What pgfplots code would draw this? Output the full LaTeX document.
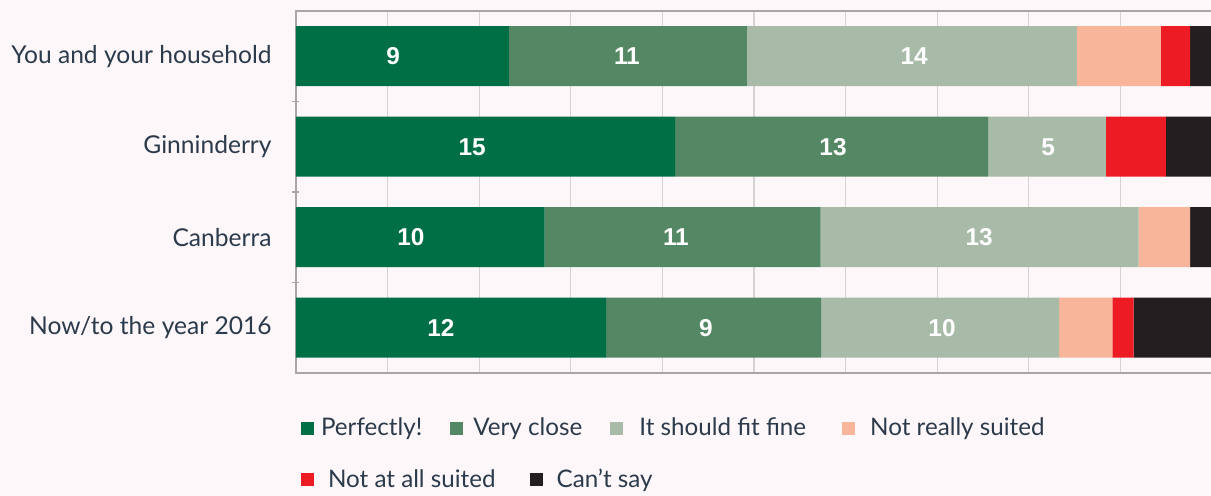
\documentclass[border=0pt]{standalone}
\usepackage{fontspec}
\setmainfont{Lato}
\newfontfamily\numfont{Liberation Sans}
\usepackage{pgfplots}
\pgfplotsset{compat=1.18}
\definecolor{bgc}{HTML}{FDF7F9}
\definecolor{txtc}{HTML}{2B3B4B}
\definecolor{gridc}{HTML}{D6D3D4}
\definecolor{axc}{HTML}{A8A6A7}
\definecolor{cA}{HTML}{006F45}
\definecolor{cB}{HTML}{548864}
\definecolor{cC}{HTML}{A8BAA8}
\definecolor{cD}{HTML}{F9B599}
\definecolor{cE}{HTML}{ED1C24}
\definecolor{cF}{HTML}{231F20}
\pgfplotsset{legsq/.style={legend image code/.code={\fill[##1] (0pt,-3.25pt) rectangle (6.5pt,3.25pt);}}}
\begin{document}
\begin{tikzpicture}
\useasboundingbox (0,0) rectangle (605.5pt,248pt);
\fill[bgc] (0,0) rectangle (605.5pt,248pt);
\begin{axis}[
  at={(148pt,61.5pt)}, anchor=south west, scale only axis,
  width=458pt, height=181pt,
  xmin=0, xmax=40, ymin=-0.5, ymax=3.5,
  xbar stacked, bar width=30pt,
  xtick={0,4,...,40}, xticklabels={},
  xmajorgrids, major x grid style={draw=gridc, line width=0.6pt},
  ytick={0,1,2,3},
  yticklabels={Now/to the year 2016, Canberra, Ginninderry, You and your household},
  minor ytick={0.5,1.5,2.5},
  major tick length=0pt, minor tick length=3.5pt, tick align=center,
  ytick pos=left,
  tick style={draw=axc, line width=0.8pt},
  axis line style={draw=axc, line width=0.8pt},
  yticklabel style={font=\fontsize{12.3}{15}\selectfont, text=txtc, inner sep=0pt, xshift=-12pt},
  legend columns=4,
  legend style={at={(axis description cs:0.0055,-0.152)}, anchor=west,
    draw=none, fill=none, inner sep=0pt, outer sep=0pt,
    font=\fontsize{12.1}{14}\selectfont, text=txtc,
    nodes={inner sep=0pt},
    /tikz/column 1/.style={column sep=3.5pt},
    /tikz/column 2/.style={column sep=14pt},
    /tikz/column 3/.style={column sep=5pt},
    /tikz/column 4/.style={column sep=14pt},
    /tikz/column 5/.style={column sep=8pt},
    /tikz/column 6/.style={column sep=18pt},
    /tikz/column 7/.style={column sep=7.5pt}},
]
\addplot[fill=cA, draw=none, legsq] coordinates {(9.30,3) (16.56,2) (10.86,1) (13.54,0)};
\addplot[fill=cB, draw=none, legsq] coordinates {(10.39,3) (13.66,2) (12.05,1) (9.39,0)};
\addplot[fill=cC, draw=none, legsq] coordinates {(14.41,3) (5.15,2) (13.89,1) (10.39,0)};
\addplot[fill=cD, draw=none, legsq] coordinates {(3.67,3) (0,2) (2.25,1) (2.33,0)};
\addplot[fill=cE, draw=none, legsq] coordinates {(1.27,3) (2.62,2) (0,1) (0.93,0)};
\addplot[fill=cF, draw=none, legsq] coordinates {(0.96,3) (2.01,2) (0.95,1) (3.42,0)};
\legend{Perfectly!, Very close, It should fit fine, Not really suited}
\end{axis}
\begin{axis}[
  at={(148pt,61.5pt)}, anchor=south west, scale only axis,
  width=458pt, height=181pt,
  xmin=0, xmax=40, ymin=-0.5, ymax=3.5,
  hide axis,
  legend columns=2,
  legend style={at={(axis description cs:0.0055,-0.2956)}, anchor=west,
    draw=none, fill=none, inner sep=0pt, outer sep=0pt,
    font=\fontsize{12.1}{14}\selectfont, text=txtc,
    nodes={inner sep=0pt},
    /tikz/every odd column/.append style={column sep=7pt},
    /tikz/every even column/.append style={column sep=17pt}},
]
\addplot[draw=none, mark=none, forget plot, nodes near coords, point meta=explicit symbolic,
  nodes near coords style={anchor=center, text=white, font=\numfont\bfseries\fontsize{12.2}{14}\selectfont}]
  coordinates {(4.24,3) [9] (14.45,3) [11] (26.99,3) [14]
               (7.69,2) [15] (23.45,2) [13] (32.84,2) [5]
               (5.02,1) [10] (16.59,1) [11] (29.83,1) [13]
               (6.33,0) [12] (17.90,0) [9] (28.21,0) [10]};
\addlegendimage{legsq, fill=cE, draw=none}
\addlegendentry{Not at all suited}
\addlegendimage{legsq, fill=cF, draw=none}
\addlegendentry{Can’t say}
\end{axis}
\end{tikzpicture}
\end{document}
